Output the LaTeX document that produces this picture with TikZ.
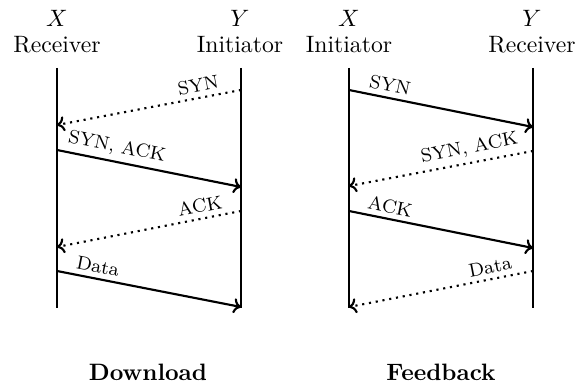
\documentclass[tikz,border=0pt]{standalone}
\usetikzlibrary{arrows.meta}
\begin{document}
\begin{tikzpicture}[x=0.4217pt,y=-0.4217pt,
  life/.style={line width=0.9pt},
  msg/.style={line width=0.9pt,-{To[length=3.2pt,width=6.4pt]}},
  dmsg/.style={line width=0.9pt,dotted,-{To[length=3.2pt,width=6.4pt]}},
  lbl/.style={font=\footnotesize,above,sloped,inner sep=2pt},
  hdr/.style={inner sep=0pt},
  captext/.style={font=\bfseries,inner sep=0pt}]
\useasboundingbox (0,0) rectangle (579,385);
% headers
\node[hdr] (lx) at (57,18) {$X$};
\node[hdr] (lxr) at (57,45) {Receiver};
\node[hdr] (ly) at (240,18) {$Y$};
\node[hdr] (lyi) at (240,45) {Initiator};
\node[hdr] (rx) at (349,18) {$X$};
\node[hdr] (rxi) at (349,45) {Initiator};
\node[hdr] (ry) at (532,18) {$Y$};
\node[hdr] (ryr) at (532,45) {Receiver};
% lifelines
\coordinate (lxt) at (57,68);  \coordinate (lxb) at (57,308);
\coordinate (lyt) at (241,68); \coordinate (lyb) at (241,308);
\coordinate (rxt) at (349,68); \coordinate (rxb) at (349,308);
\coordinate (ryt) at (533,68); \coordinate (ryb) at (533,308);
\draw[life] (lxt) -- (lxb);
\draw[life] (lyt) -- (lyb);
\draw[life] (rxt) -- (rxb);
\draw[life] (ryt) -- (ryb);
% left messages
\coordinate (a1) at (241,90);  \coordinate (a2) at (57,125);
\coordinate (a3) at (57,150);  \coordinate (a4) at (241,187);
\coordinate (a5) at (241,211); \coordinate (a6) at (57,247);
\coordinate (a7) at (57,271);  \coordinate (a8) at (241,307);
\draw[dmsg] (a1) -- node[lbl,pos=0.22] {SYN} (a2);
\draw[msg] (a3) -- node[lbl,pos=0.31] {SYN, ACK} (a4);
\draw[dmsg] (a5) -- node[lbl,pos=0.21] {ACK} (a6);
\draw[msg] (a7) -- node[lbl,pos=0.21] {Data} (a8);
% right messages
\coordinate (b1) at (349,90);  \coordinate (b2) at (533,127);
\coordinate (b3) at (533,151); \coordinate (b4) at (349,186);
\coordinate (b5) at (349,211); \coordinate (b6) at (533,248);
\coordinate (b7) at (533,271); \coordinate (b8) at (349,307);
\draw[msg] (b1) -- node[lbl,pos=0.21] {SYN} (b2);
\draw[dmsg] (b3) -- node[lbl,pos=0.33] {SYN, ACK} (b4);
\draw[msg] (b5) -- node[lbl,pos=0.21] {ACK} (b6);
\draw[dmsg] (b7) -- node[lbl,pos=0.22] {Data} (b8);
% captions
\node[captext] (cd) at (148,372) {Download};
\node[captext] (cf) at (441,372) {Feedback};
\end{tikzpicture}
\end{document}
